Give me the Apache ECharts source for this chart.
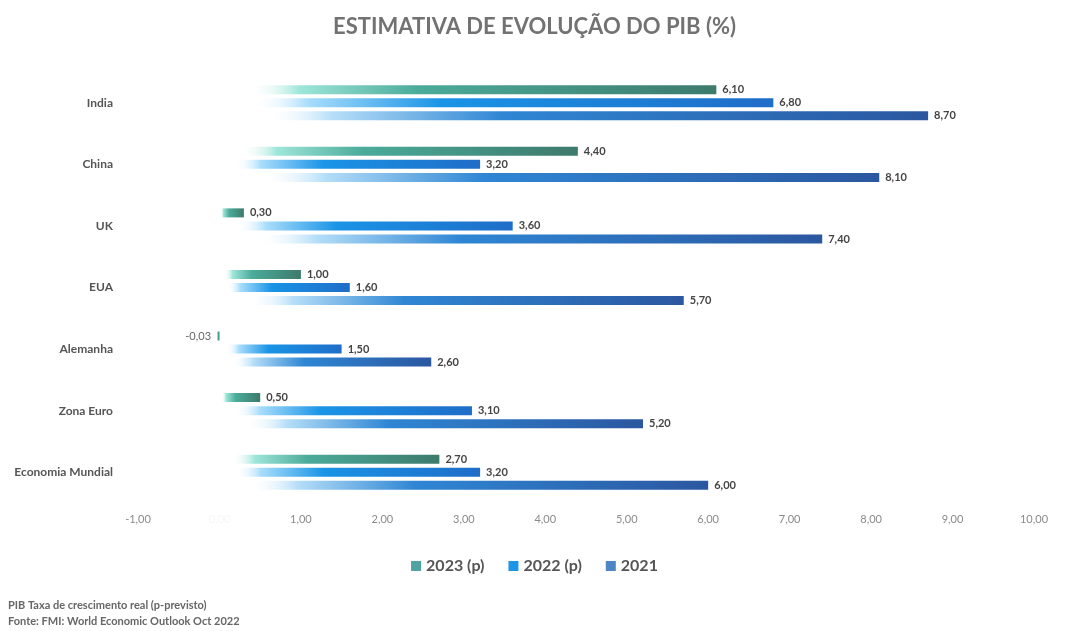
<!DOCTYPE html>
<html>
<head>
  <meta charset="utf-8">
  <style type="text/css">
    body, html, #main {
      height: 100%;
      width: 100%;
      margin: 0;
      background: #fff;
    }
  </style>
  <title>PIB</title>
  <script src="https://cdn.jsdelivr.net/npm/echarts@6/dist/echarts.min.js"></script>
</head>
<body>
  <div id="main"></div>
  <script>
    // dados
    var countries = ['India', 'China', 'UK', 'EUA', 'Alemanha', 'Zona Euro', 'Economia Mundial'];
    var seriesNames = ['2023 (p)', '2022 (p)', '2021'];
    var pib2023 = [6.10, 4.40, 0.30, 1.00, -0.03, 0.50, 2.70];
    var pib2022 = [6.80, 3.20, 3.60, 1.60, 1.50, 3.10, 3.20];
    var pib2021 = [8.70, 8.10, 7.40, 5.70, 2.60, 5.20, 6.00];
    var xTicks = { min: -1, max: 10, step: 1 };
    var notes = ['PIB Taxa de crescimento real (p-previsto)', 'Fonte: FMI: World Economic Outlook Oct 2022'];

    var fmt = function (v) { return v.toFixed(2).replace('.', ','); };

    function fade(light, main, dark) {
      return new echarts.graphic.LinearGradient(0, 0, 1, 0, [
        { offset: 0, color: 'rgba(255,255,255,0)' },
        { offset: 0.06, color: 'rgba(255,255,255,0)' },
        { offset: 0.16, color: light },
        { offset: 0.4, color: main },
        { offset: 1, color: dark }
      ]);
    }

    var styles = [
      { legend: '#4fa3a0', bar: fade('#9fe6da', '#4bab9a', '#3d7a6c') },
      { legend: '#1e96e8', bar: fade('#a8ddfb', '#1a94e6', '#1f6dc8') },
      { legend: '#4d86c4', bar: fade('#b5def8', '#2f86d4', '#2b57a0') }
    ];
    var values = [pib2023, pib2022, pib2021];

    var chart = echarts.init(document.getElementById('main'));

    chart.setOption({
      animation: false,
      title: {
        text: 'ESTIMATIVA DE EVOLUÇÃO DO PIB (%)',
        left: 'center',
        top: 11,
        textStyle: { fontFamily: 'Lato', fontSize: 22, fontWeight: 'bold', color: '#727272' }
      },
      legend: {
        top: 553,
        left: 'center',
        itemWidth: 10,
        itemHeight: 10,
        itemGap: 24,
        icon: 'rect',
        textStyle: { fontFamily: 'Lato', fontSize: 16, fontWeight: 'bold', color: '#555' },
        data: seriesNames.map(function (n, i) {
          return { name: n, itemStyle: { color: styles[i].legend } };
        })
      },
      graphic: notes.map(function (t, i) {
        return {
          type: 'text',
          left: 8,
          top: 600 + i * 16,
          style: { text: t, fontFamily: 'Lato', fontSize: 11, fontWeight: 'bold', fill: '#666' }
        };
      }),
      grid: { left: 138, right: 35, top: 72, bottom: 128 },
      xAxis: {
        type: 'value',
        min: xTicks.min,
        max: xTicks.max,
        interval: xTicks.step,
        axisLine: { show: false },
        axisTick: { show: false },
        splitLine: { show: false },
        axisLabel: {
          margin: 11,
          fontFamily: 'Lato',
          fontSize: 11,
          color: '#8a8a8a',
          formatter: function (v) { return v === 0 ? '{z|' + fmt(v) + '}' : fmt(v); },
          rich: { z: { color: '#f7f7f7', fontSize: 11 } }
        }
      },
      yAxis: {
        type: 'category',
        inverse: true,
        data: countries,
        axisLine: { show: false, onZero: false },
        axisTick: { show: false },
        axisLabel: {
          margin: 25,
          fontFamily: 'Lato',
          fontSize: 12,
          fontWeight: 'bold',
          color: '#555'
        }
      },
      series: seriesNames.map(function (n, i) {
        return {
          name: n,
          type: 'bar',
          barWidth: 9,
          barGap: '45%',
          itemStyle: { color: styles[i].bar },
          label: {
            show: true,
            position: 'right',
            distance: 6,
            fontFamily: 'Lato',
            fontSize: 11,
            fontWeight: 'bold',
            color: '#444',
            formatter: function (p) { return fmt(p.value); }
          },
          data: values[i].map(function (v) {
            if (v < 0) {
              return { value: v, label: { position: 'left', fontWeight: 'normal', color: '#666' } };
            }
            return v;
          })
        };
      })
    });
  </script>
</body>
</html>
